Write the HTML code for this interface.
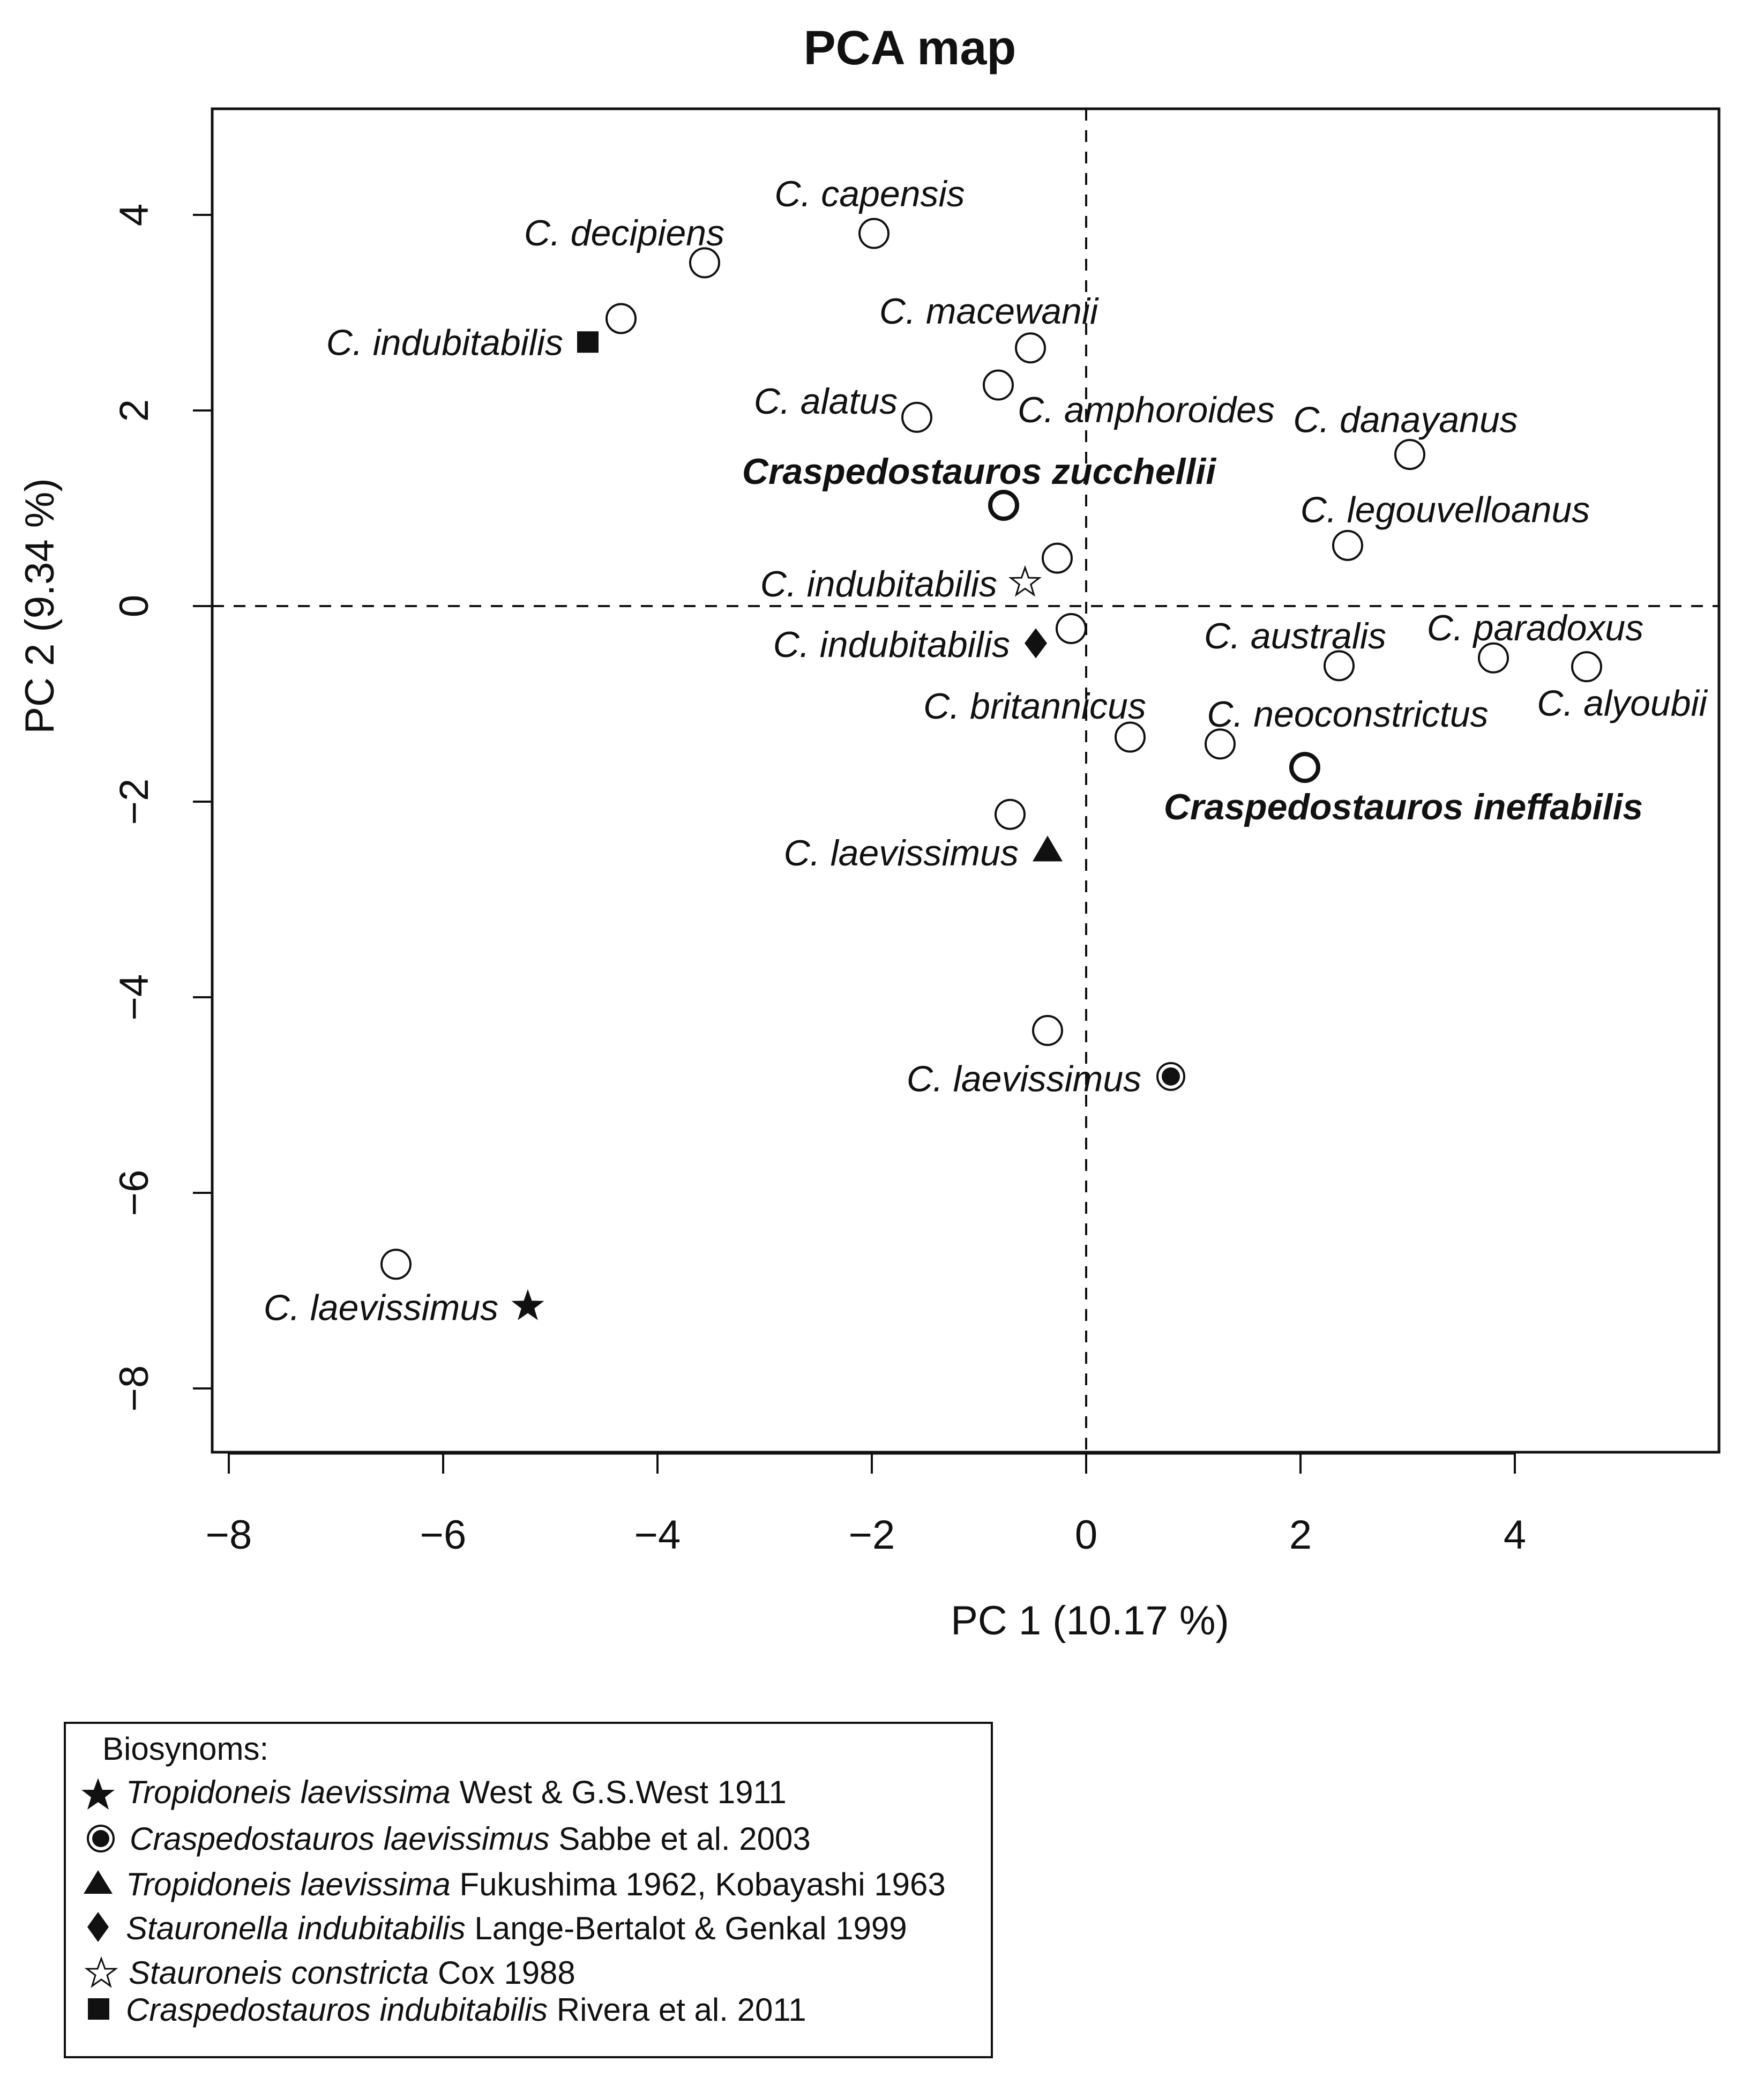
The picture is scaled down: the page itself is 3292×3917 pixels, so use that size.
<!DOCTYPE html>
<html><head><meta charset="utf-8"><title>PCA map</title>
<style>html,body{margin:0;padding:0;background:#fff}svg{display:block}text{font-family:"Liberation Sans",Arial,sans-serif;fill:#111}</style>
</head><body>
<svg id="chart" xmlns="http://www.w3.org/2000/svg" width="3292" height="3917" viewBox="0 0 3292 3917">
<rect x="0" y="0" width="3292" height="3917" fill="#fff"/>
<text x="1698" y="120" font-size="90" font-weight="bold" text-anchor="middle">PCA map</text>
<rect x="396" y="203" width="2812" height="2507" fill="none" stroke="#111" stroke-width="5"/>
<g id="axes"></g>
<g id="marks"></g>
<text x="2034" y="3050" font-size="76" text-anchor="middle">PC 1 (10.17 %)</text>
<text x="0" y="0" font-size="76" text-anchor="middle" transform="translate(100,1131) rotate(-90)">PC 2 (9.34 %)</text>
<g>
<rect x="121" y="3215" width="1730" height="624" fill="none" stroke="#111" stroke-width="4"/>
<text x="191" y="3284" font-size="60">Biosynoms:</text>
<path d="M183,3318 L191,3340 L214,3340 L196,3354 L203,3377 L183,3363 L163,3377 L170,3354 L152,3340 L175,3340 Z" fill="#111"/>
<text x="235" y="3365" font-size="60"><tspan font-style="italic">Tropidoneis laevissima</tspan> West &amp; G.S.West 1911</text>
<circle cx="188" cy="3431" r="24" fill="#fff" stroke="#111" stroke-width="4"/>
<circle cx="188" cy="3431" r="16" fill="#111"/>
<text x="242" y="3452" font-size="60"><tspan font-style="italic">Craspedostauros laevissimus</tspan> Sabbe et al. 2003</text>
<path d="M183,3490 L210,3534 L156,3534 Z" fill="#111"/>
<text x="235" y="3537" font-size="60"><tspan font-style="italic">Tropidoneis laevissima</tspan>  Fukushima 1962, Kobayashi 1963</text>
<path d="M183,3568 L203,3596 L183,3624 L163,3596 Z" fill="#111"/>
<text x="235" y="3619" font-size="60"><tspan font-style="italic">Stauronella indubitabilis</tspan> Lange-Bertalot &amp; Genkal 1999</text>
<path d="M189,3655 L196,3674 L216,3674 L200,3686 L206,3706 L189,3694 L172,3706 L178,3686 L162,3674 L182,3674 Z" fill="#fff" stroke="#111" stroke-width="3"/>
<text x="240" y="3702" font-size="60"><tspan font-style="italic">Stauroneis constricta</tspan> Cox 1988</text>
<rect x="164" y="3729" width="40" height="40" fill="#111"/>
<text x="235" y="3771" font-size="60"><tspan font-style="italic">Craspedostauros indubitabilis</tspan> Rivera et al. 2011</text>
</g>
</svg>
<script>
const NS='http://www.w3.org/2000/svg';
const xTicks=[-8,-6,-4,-2,0,2,4];
const yTicks=[4,2,0,-2,-4,-6,-8];
const circleX=[-3.56,-1.98,-4.34,-0.52,-0.82,-1.58,-0.27,-0.14,3.02,2.44,2.36,3.80,4.67,0.41,1.25,-0.71,-0.36,-6.44];
const circleY=[3.51,3.81,2.94,2.64,2.26,1.93,0.49,-0.23,1.55,0.62,-0.61,-0.53,-0.62,-1.34,-1.41,-2.13,-4.34,-6.73];
const boldX=[-0.77,2.04];
const boldY=[1.03,-1.65];
const symTypes=['square','star-open','diamond','triangle','circle-filled','star-filled'];
const symX=[-4.65,-0.57,-0.47,-0.36,0.79,-5.21];
const symY=[2.70,0.24,-0.38,-2.49,-4.81,-7.16];
const labelText=['C. capensis','C. decipiens','C. indubitabilis','C. macewanii','C. alatus','C. amphoroides','C. danayanus','Craspedostauros zucchellii','C. legouvelloanus','C. indubitabilis','C. indubitabilis','C. australis','C. paradoxus','C. alyoubii','C. britannicus','C. neoconstrictus','Craspedostauros ineffabilis','C. laevissimus','C. laevissimus','C. laevissimus'];
const labelX=[-2.02,-4.31,-4.88,-0.91,-2.43,0.56,2.98,-1.00,3.35,-0.83,-0.71,1.95,4.19,5.00,-0.48,2.44,2.96,-0.63,-0.58,-6.58];
const labelY=[4.22,3.82,2.70,3.02,2.10,2.01,1.91,1.38,0.99,0.23,-0.39,-0.30,-0.22,-0.99,-1.02,-1.10,-2.05,-2.52,-4.83,-7.17];
const labelAnchor=['middle','middle','end','middle','middle','middle','middle','middle','middle','end','end','middle','middle','middle','middle','middle','middle','end','middle','middle'];
const labelBold=[0,0,0,0,0,0,0,1,0,0,0,0,0,0,0,0,1,0,0,0];

const X=v=>2027+v*200;
const Y=v=>1131-v*182.5;
const axes=document.getElementById('axes');
const marks=document.getElementById('marks');
function mk(tag,attrs,parent){const e=document.createElementNS(NS,tag);for(const k in attrs)e.setAttribute(k,attrs[k]);parent.appendChild(e);return e;}

let l=mk('line',{x1:X(0),y1:203,x2:X(0),y2:2710,stroke:'#111','stroke-width':4,'stroke-dasharray':'22 18'},axes);


l=mk('line',{x1:396,y1:Y(0),x2:3208,y2:Y(0),stroke:'#111','stroke-width':4,'stroke-dasharray':'22 18'},axes);


l=mk('line',{x1:X(xTicks[0]),y1:2712,x2:X(xTicks[xTicks.length-1]),y2:2712,stroke:'#111','stroke-width':5},axes);


xTicks.forEach(v=>{
  const t=mk('line',{x1:X(v),y1:2710,x2:X(v),y2:2750,stroke:'#111','stroke-width':4},axes);
  
  
  const tx=mk('text',{x:X(v),y:2890,'font-size':76,'text-anchor':'middle'},axes);
  tx.textContent=(v<0?'\u2212'+(-v):String(v));
  
  
});
yTicks.forEach(v=>{
  const t=mk('line',{x1:396,y1:Y(v),x2:360,y2:Y(v),stroke:'#111','stroke-width':4},axes);
  
  
  const tx=mk('text',{x:0,y:0,'font-size':76,'text-anchor':'middle',transform:`translate(276,${Y(v)}) rotate(-90)`},axes);
  tx.textContent=(v<0?'\u2212'+(-v):String(v));
  
  
});
circleX.forEach((v,i)=>{
  const c=mk('circle',{cx:X(v),cy:Y(circleY[i]),r:27,fill:'#fff',stroke:'#111','stroke-width':4},marks);
  
  
});
boldX.forEach((v,i)=>{
  const c=mk('circle',{cx:X(v),cy:Y(boldY[i]),r:25,fill:'#fff',stroke:'#111','stroke-width':8},marks);
  
  
});
function starPath(cx,cy,R){let d='';for(let k=0;k<10;k++){const r=k%2?R*0.4:R;const a=-Math.PI/2+k*Math.PI/5;d+=(k?'L':'M')+(cx+r*Math.cos(a)).toFixed(1)+','+(cy+r*Math.sin(a)).toFixed(1);}return d+'Z';}
symTypes.forEach((s,i)=>{
  const cx=X(symX[i]),cy=Y(symY[i]);let e;
  if(s==='square')e=mk('rect',{x:cx-20,y:cy-20,width:40,height:40,fill:'#111'},marks);
  else if(s==='star-open')e=mk('path',{d:starPath(cx,cy,28),fill:'#fff',stroke:'#111','stroke-width':3},marks);
  else if(s==='star-filled')e=mk('path',{d:starPath(cx,cy,32),fill:'#111'},marks);
  else if(s==='diamond')e=mk('path',{d:`M${cx},${cy-28}L${cx+21},${cy}L${cx},${cy+28}L${cx-21},${cy}Z`,fill:'#111'},marks);
  else if(s==='triangle')e=mk('path',{d:`M${cx},${cy-26}L${cx+28},${cy+22}L${cx-28},${cy+22}Z`,fill:'#111'},marks);
  else {e=mk('circle',{cx:cx,cy:cy,r:25,fill:'#fff',stroke:'#111','stroke-width':4},marks);mk('circle',{cx:cx,cy:cy,r:17,fill:'#111'},marks);}
  
  
});
labelText.forEach((t,i)=>{
  const tx=mk('text',{x:X(labelX[i]),y:Y(labelY[i])+24,'font-size':68,'text-anchor':labelAnchor[i],'font-style':'italic','font-weight':labelBold[i]?'bold':'normal'},marks);
  tx.textContent=t;
  
  
});
</script>
</body></html>
